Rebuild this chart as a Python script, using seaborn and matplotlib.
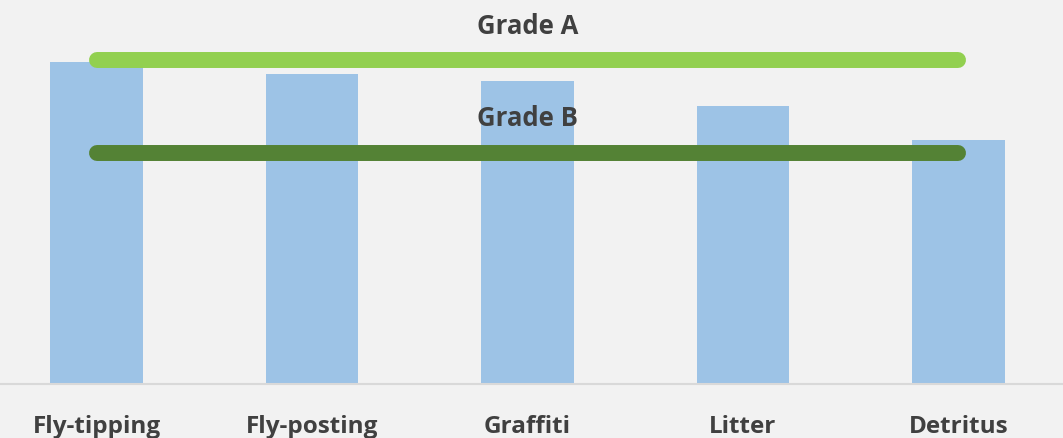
import matplotlib
matplotlib.use("Agg")
import matplotlib.pyplot as plt
import seaborn as sns
import pandas as pd

sns.set_theme(style="white")
plt.rcParams['font.family'] = ['Open Sans', 'DejaVu Sans']

categories = ["Fly-tipping", "Fly-posting", "Graffiti", "Litter", "Detritus"]
scores = [83.9, 80.7, 78.9, 72.4, 63.5]
grade_a = 84.4
grade_b = 60.2

BG = "#f2f2f2"
BAR = "#9dc3e6"
GREEN_A = "#92d050"
GREEN_B = "#548235"
TEXT = "#404040"

df = pd.DataFrame({"category": categories, "score": scores})

fig = plt.figure(figsize=(10.63, 4.38), dpi=100, facecolor=BG)
ax = fig.add_axes([0, 54 / 438, 1, 384 / 438])
ax.set_facecolor(BG)

sns.barplot(data=df, x="category", y="score", color=BAR, width=0.43,
            saturation=1, linewidth=0, ax=ax)

# grade threshold lines run from first to last category centre
ax.plot([0, len(categories) - 1], [grade_a, grade_a], color=GREEN_A,
        lw=11.5, solid_capstyle="round", zorder=3)
ax.plot([0, len(categories) - 1], [grade_b, grade_b], color=GREEN_B,
        lw=11.5, solid_capstyle="round", zorder=3)

mid = (len(categories) - 1) / 2
ax.text(mid, grade_a + 8.6, "Grade A", ha="center", va="center",
        fontsize=18.5, fontweight="bold", color=TEXT, zorder=4)
ax.text(mid, grade_b + 9.0, "Grade B", ha="center", va="center",
        fontsize=18.5, fontweight="bold", color=TEXT, zorder=4)

ax.set_xlim(-0.448, 4.485)
ax.set_ylim(0, 100)
ax.set_xlabel("")
ax.set_ylabel("")
ax.set_yticks([])
ax.tick_params(axis="x", length=0, pad=22, labelsize=17.5, colors=TEXT)
for lbl in ax.get_xticklabels():
    lbl.set_fontweight("bold")

for side in ["top", "left", "right"]:
    ax.spines[side].set_visible(False)
ax.spines["bottom"].set_color("#d9d9d9")
ax.spines["bottom"].set_linewidth(1.5)

fig.savefig("out.png", dpi=100, facecolor=BG)
